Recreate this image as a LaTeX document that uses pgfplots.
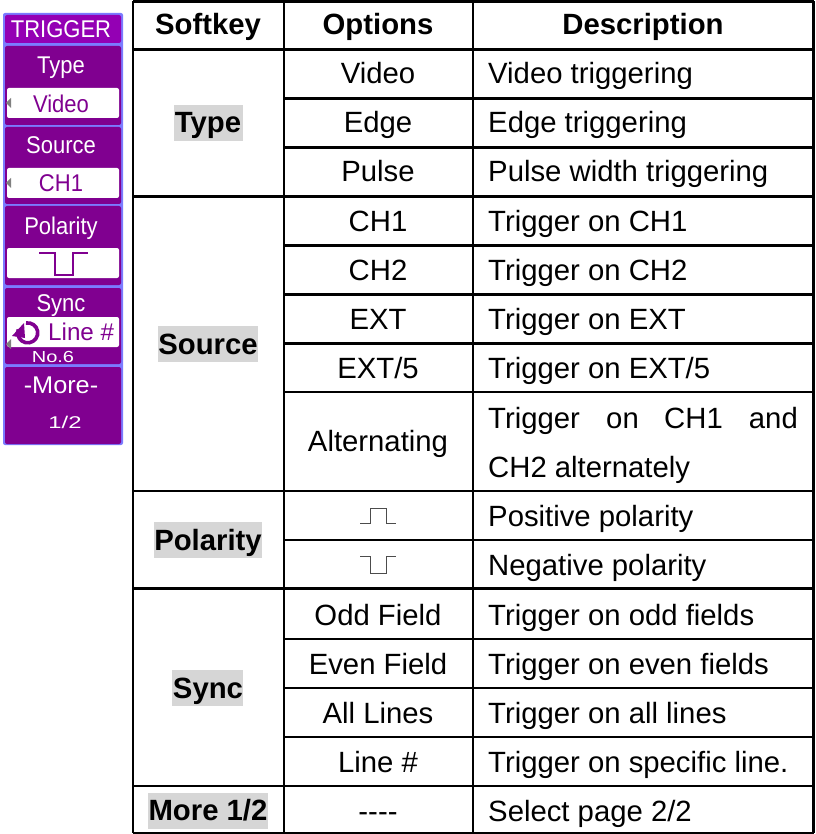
\documentclass[border=0pt]{standalone}
\usepackage{pgfplots}
\usepackage{fontspec}
\setmainfont{Liberation Sans}
\pgfplotsset{compat=1.18}
\definecolor{pborder}{HTML}{7B7BFF}
\definecolor{ptitle}{HTML}{9400B4}
\definecolor{pbody}{HTML}{800090}
\definecolor{hl}{HTML}{D6D6D6}
\newcommand{\TC}[3]{\node[anchor=base,inner sep=0pt,font=\fontsize{29.3}{35}\selectfont] at (axis cs:#1,#2) {#3};}
\newcommand{\TL}[3]{\node[anchor=base west,inner sep=0pt,font=\fontsize{29.3}{35}\selectfont] at (axis cs:#1,#2) {#3};}
\newcommand{\TB}[3]{\node[anchor=base,inner sep=0pt,font=\fontsize{29.3}{35}\selectfont\bfseries] at (axis cs:#1,#2) {#3};}
\newcommand{\PT}[3]{\node[anchor=base,inner sep=0pt,text=#3,font=\fontsize{22}{24}\selectfont] at (axis cs:61,#1) {\scalebox{1}[1.1]{#2}};}
\newcommand{\RR}[5]{\addplot[draw=none,fill=#5] coordinates {(#1,#3) (#2,#3) (#2,#4) (#1,#4)} --cycle;}
\newcommand{\RC}[5]{\addplot[draw=none,fill=#5,rounded corners=2pt] coordinates {(#1,#3) (#2,#3) (#2,#4) (#1,#4)} --cycle;}
\newcommand{\HLn}[3]{\addplot[black,line width=2.6pt] coordinates {(#1,#3) (#2,#3)};}
\newcommand{\VLn}[3]{\addplot[black,line width=2.6pt] coordinates {(#1,#2) (#1,#3)};}
\begin{document}
\begin{tikzpicture}
\begin{axis}[scale only axis,width=815pt,height=834pt,xmin=0,xmax=815,ymin=0,ymax=834,y dir=reverse,hide axis,clip=true]
% canvas
\RR{0}{815}{0}{834}{white}
% panel
\RC{3}{123}{13}{445}{pborder}
\RC{5}{121}{15}{43}{ptitle}
\RC{5}{121}{46}{125}{pbody}
\RC{5}{121}{127}{204}{pbody}
\RC{5}{121}{206}{285}{pbody}
\RC{5}{121}{288}{364}{pbody}
\RC{5}{121}{367}{444}{pbody}
\RC{7}{119}{88}{118}{white}
\RC{7}{119}{168}{198}{white}
\RC{7}{119}{248}{278}{white}
\RC{7}{119}{317}{347}{white}
\addplot[draw=none,fill=gray] coordinates {(6,103) (11,98) (11,108)} --cycle;
\addplot[draw=none,fill=gray] coordinates {(6,183) (11,178) (11,188)} --cycle;
\addplot[draw=none,fill=gray] coordinates {(6,344) (11,339) (11,349)} --cycle;
\addplot[pbody,line width=1.4pt] coordinates {(39,253) (55,253) (55,275) (73,275) (73,253) (88,253)};
\PT{38}{TRIGGER}{white}
\PT{74}{Type}{white}
\PT{113}{Video}{pbody}
\PT{154}{Source}{white}
\PT{192}{CH1}{pbody}
\PT{234}{Polarity}{white}
\PT{311}{Sync}{white}
\PT{393}{\scalebox{1.15}[1]{-More-}}{white}
\node[anchor=base,inner sep=0pt,text=white,font=\fontsize{17}{18}\selectfont] at (axis cs:65,428) {\scalebox{1.4}[1]{1/2}};
\node[anchor=base,inner sep=0pt,text=white,font=\fontsize{16}{18}\selectfont] at (axis cs:53,362) {\scalebox{1.25}[1]{No.6}};
\node[anchor=base west,inner sep=0pt,text=pbody,font=\fontsize{22}{24}\selectfont] at (axis cs:48,340) {\scalebox{1.1}[1.1]{Line \#}};
\draw[pbody,line width=3.6pt] (axis cs:26,323) arc[start angle=100,end angle=-200,radius=10pt];
\addplot[draw=none,fill=pbody] coordinates {(12,336) (24,323) (25,338)} --cycle;
% highlights
\RR{174}{243}{105}{141}{hl}
\RR{158}{258}{326}{362}{hl}
\RR{154}{262}{522}{558}{hl}
\RR{172}{243}{670}{706}{hl}
\RR{148}{268}{793}{829}{hl}
% table grid
\VLn{133}{1}{833}
\VLn{284}{1}{833}
\VLn{473}{1}{833}
\VLn{813.5}{1}{833}
\HLn{133}{813.5}{1.5}
\HLn{133}{813.5}{49.5}
\HLn{284}{813.5}{98.5}
\HLn{284}{813.5}{147.5}
\HLn{133}{813.5}{196.5}
\HLn{284}{813.5}{245.5}
\HLn{284}{813.5}{294.5}
\HLn{284}{813.5}{343.5}
\HLn{284}{813.5}{392}
\HLn{133}{813.5}{491}
\HLn{284}{813.5}{540}
\HLn{133}{813.5}{588.5}
\HLn{284}{813.5}{639}
\HLn{284}{813.5}{688}
\HLn{284}{813.5}{737}
\HLn{133}{813.5}{786}
\HLn{133}{813.5}{833}
% header
\TB{208}{35}{Softkey}
\TB{378}{35}{Options}
\TB{643}{35}{Description}
\TB{208}{133}{Type}
\TB{208}{354}{Source}
\TB{208}{550}{Polarity}
\TB{208}{698}{Sync}
\TB{208}{820}{More 1/2}
\TC{378}{84}{Video}
\TC{378}{133}{Edge}
\TC{378}{182}{Pulse}
\TC{378}{231}{CH1}
\TC{378}{280}{CH2}
\TC{378}{329}{EXT}
\TC{378}{378}{EXT/5}
\TC{378}{451}{Alternating}
\TC{378}{625}{Odd Field}
\TC{378}{674}{Even Field}
\TC{378}{723}{All Lines}
\TC{378}{772}{Line \#}
\TC{378}{821}{{-}{-}{-}{-}}
\addplot[black!70,line width=1pt] coordinates {(360,523) (370,523) (370,508) (386,508) (386,523) (396,523)};
\addplot[black!70,line width=1pt] coordinates {(360,556) (370,556) (370,573) (386,573) (386,556) (396,556)};
\TL{488}{84}{Video triggering}
\TL{488}{133}{Edge triggering}
\TL{488}{182}{Pulse width triggering}
\TL{488}{231}{Trigger on CH1}
\TL{488}{280}{Trigger on CH2}
\TL{488}{329}{Trigger on EXT}
\TL{488}{378}{Trigger on EXT/5}
\TL{488}{428}{Trigger}
\TC{622.5}{428}{on}
\node[anchor=base east,inner sep=0pt,font=\fontsize{29.3}{35}\selectfont] at (axis cs:798,428) {and};
\TC{693.5}{428}{CH1}
\TL{488}{477}{CH2 alternately}
\TL{488}{526}{Positive polarity}
\TL{488}{575}{Negative polarity}
\TL{488}{625}{Trigger on odd fields}
\TL{488}{674}{Trigger on even fields}
\TL{488}{723}{Trigger on all lines}
\TL{488}{772}{Trigger on specific line.}
\TL{488}{821}{Select page 2/2}
\end{axis}
\end{tikzpicture}
\end{document}
